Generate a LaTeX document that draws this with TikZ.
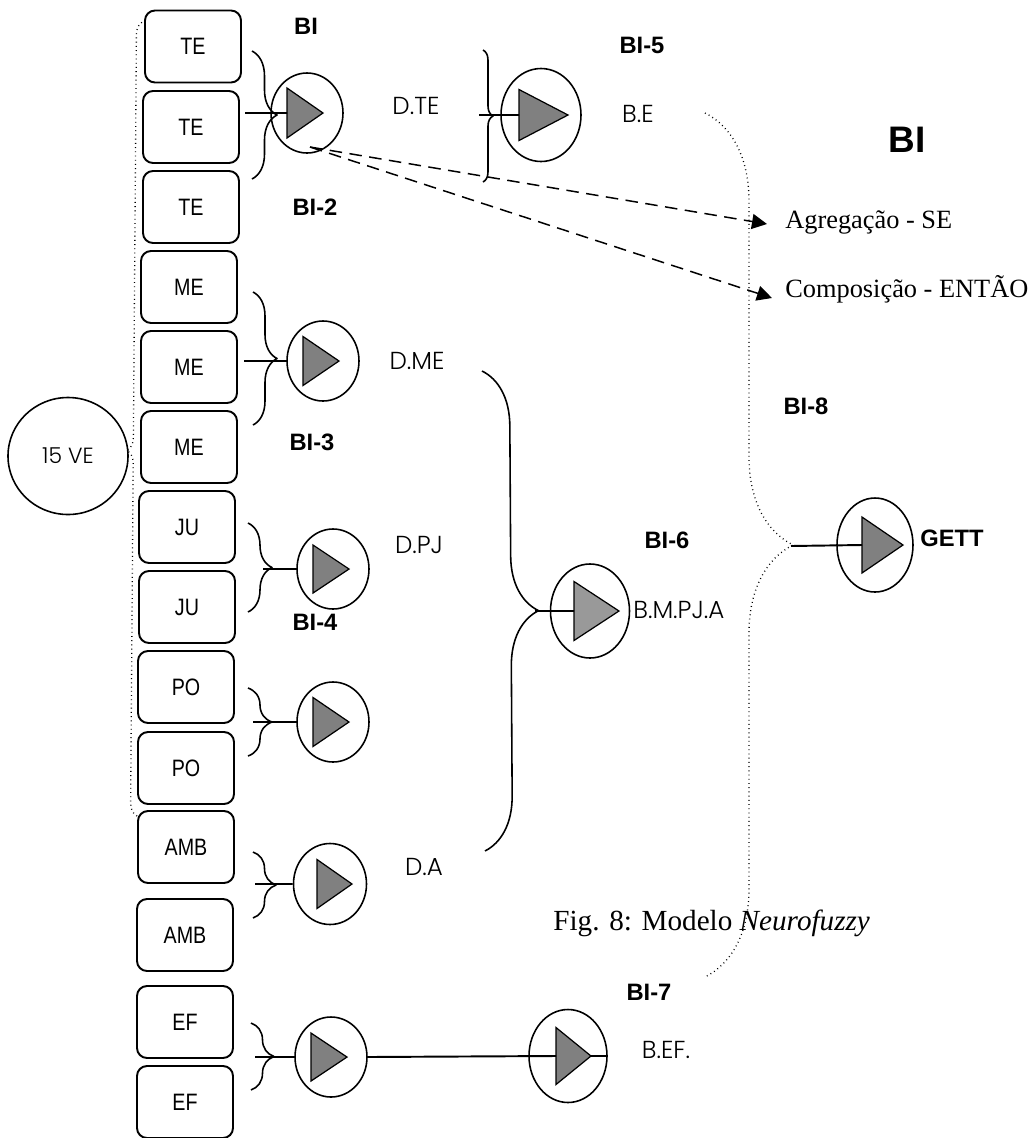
\documentclass[tikz,border=0pt]{standalone}
\usepackage{fontspec}
\setmainfont{Liberation Serif}
\newfontfamily\boxfont[FakeStretch=0.83]{Liberation Sans}
\newfontfamily\arialfont{Liberation Sans}
\newfontfamily\gothfont{Poppins Light}
\usetikzlibrary{calc,shapes.geometric,decorations.pathreplacing,arrows.meta}

\tikzset{
  caixa/.style={draw,rounded corners=2mm,line width=1.1pt,minimum width=19.2mm,minimum height=14.4mm,inner sep=0pt,font=\boxfont\fontsize{13.5}{15}\selectfont},
  neuronio/.style={draw,ellipse,line width=0.9pt,inner sep=0pt},
  tri/.style={draw,line width=0.7pt,line join=miter},
  chave/.style={decorate,decoration={brace,amplitude=#1},line width=0.9pt},
  linha/.style={line width=1.1pt},
  rotulo/.style={inner sep=0pt,font=\arialfont\bfseries\fontsize{13.5}{15}\selectfont},
  sinal/.style={inner sep=0pt,font=\gothfont\fontsize{14}{16}\selectfont},
  texto/.style={inner sep=0pt,anchor=west,font=\fontsize{15}{17}\selectfont},
  seta/.style={dash pattern=on 2.5mm off 1.5mm,line width=0.85pt,-{Triangle[length=3mm,width=3mm]}},
  pontos/.style={line width=0.75pt,dash pattern=on 0.5pt off 1.9pt},
}

\begin{document}
\begin{tikzpicture}[x=0.2mm,y=-0.2mm,line join=round]
\useasboundingbox (0,0) rectangle (1029,1138);
% entradas
\foreach \n/\x/\y/\t in {te1/193/46.5/TE,te2/191/127/TE,te3/191/207/TE,me1/189/287/ME,me2/189/367/ME,me3/189/447/ME,ju1/187/527/JU,ju2/187/607/JU,po1/186/687/PO,po2/186/768/PO,amb1/186/847/AMB,amb2/185/935/AMB,ef1/185/1022/EF,ef2/185/1102/EF}
  \node[caixa] (\n) at (\x,\y) {\t};
\node[draw,ellipse,line width=0.9pt,minimum width=24mm,minimum height=23.4mm,sinal,font=\gothfont\fontsize{12.5}{14}\selectfont] (ve) at (68,456) {15 VE};
\draw[pontos,decorate,decoration={brace,amplitude=2.6mm,aspect=0.46}] ($(amb1.north west)+(0,6)$) -- ($(te1.north west)+(-1,12)$);
% neuronios
\foreach \n/\x/\y/\rx/\ry/\a/\b/\h/\c in {n1/307/113/36/40/287/323/25/gray,n2/323/361/36/40/303/339/24.5/gray,n3/333/569/36/40/313/349/24/gray,n4/333/722/36/40/313/349/24.5/gray,n5/330/884/36.5/40.5/317/352/24.5/gray,n6/331/1057/36/40/311/347/24/gray,n7/541/115/40/46.5/519/568/25.5/gray,n8/590/611/39.5/47/574/619/29.5/gray!80,n9/875/545/38/47/862/903/28/gray,n10/568/1056/39/46.5/556/591/28.5/gray}{
  \node[neuronio,minimum width=0.4mm*\rx,minimum height=0.4mm*\ry] (\n) at (\x,\y) {};
  \coordinate (\n-in) at (\a,\y);
  \coordinate (\n-out) at (\b,\y);
  \draw[tri,fill=\c] (\a,\y-\h) -- (\a,\y+\h) -- (\b,\y) -- cycle;
}
% chaves
\draw[chave=5mm] (252,51) -- (252,179);
\draw[chave=4.8mm] (253,292) -- (253,425);
\draw[chave=4.8mm] (248,523) -- (248,612);
\draw[chave=4.8mm] (248,688) -- (248,756);
\draw[chave=4.6mm] (253,852) -- (253,918);
\draw[chave=4.6mm] (251,1023) -- (251,1090);
\draw[chave=2mm] (483,50) -- (483,182);
\draw[chave=11mm] (482,371) -- (485,851);
\draw[pontos,decorate,decoration={brace,amplitude=17.6mm}] (705,113) -- (705,977);
% ligacoes
\coordinate (c1) at (245,113);
\coordinate (c2) at (244,361);
\coordinate (c3) at (263,569);
\coordinate (c4) at (253,722);
\coordinate (c5) at (255,884);
\coordinate (c6) at (255,1057);
\coordinate (c7) at (479,115);
\coordinate (c8) at (535,611);
\coordinate (c9) at (791,546);
\draw[linha] (c1) -- (n1-in) (c2) -- (n2.west) (c3) -- (n3.west) (c4) -- (n4.west)
  (c5) -- (n5.west) (c6) -- (n6.west) (c7) -- (n7-in) (c8) -- (n8-in) (c9) -- (n9-in)
  (n6.east) -- (n10-in) (n10-out) -- (n10.east);
% rotulos
\foreach \p/\t in {{306,26}/BI,{315,207}/BI-2,{312,442}/BI-3,{315,622}/BI-4,{642,45}/BI-5,{667,540}/BI-6,{649,992}/BI-7,{806,406}/BI-8}
  \node[rotulo] at (\p) {\t};
\node[rotulo,font=\arialfont\bfseries\fontsize{21}{24}\selectfont] (bi) at (907,140) {BI};
\node[rotulo,anchor=west] (gett) at (920,538) {GETT};
\foreach \p/\t in {{416,106}/D.TE,{638,114}/B.E,{417,361}/D.ME,{419,545}/D.PJ,{424,867}/D.A,{666,1050}/B.EF.}
  \node[sinal] at (\p) {\t};
\node[sinal,anchor=west] (bmpja) at (633,610) {B.M.PJ.A};
% regras
\coordinate (d0) at (310,147);
\node[texto] (agr) at (785,222) {Agregação - SE};
\node[texto] (comp) at (785,289) {Composição - ENTÃO};
\draw[seta] (d0) -- ($(agr.west)+(-18,2)$);
\draw[seta] (d0) -- ($(comp.west)+(-13,9)$);
\node[texto,font=\fontsize{16.6}{18}\selectfont] (leg) at (553,923) {Fig. 8: Modelo \textit{Neurofuzzy}};
\end{tikzpicture}
\end{document}
